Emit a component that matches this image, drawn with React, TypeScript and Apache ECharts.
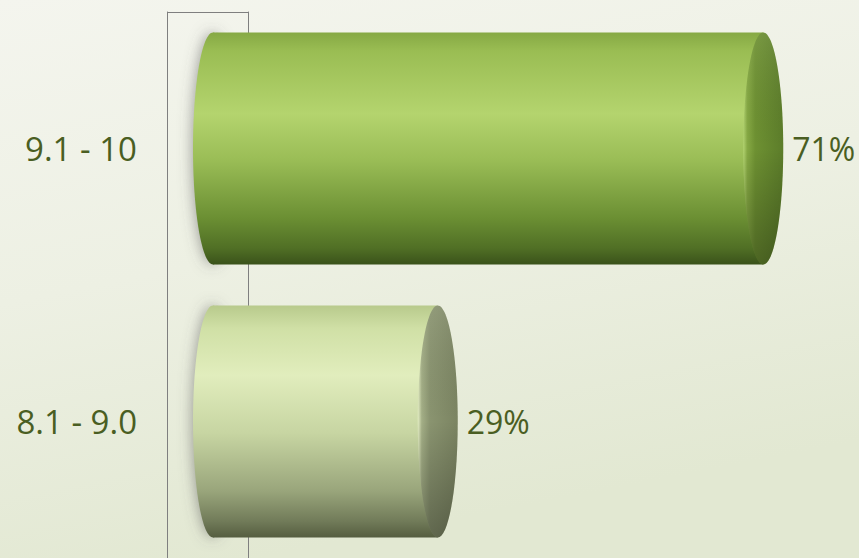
import React, { useEffect, useRef } from "react";
import * as echarts from "echarts";

const categories = ["9.1 - 10", "8.1 - 9.0"];
const values = [71, 29];

const bodyStops = [
  [
    [0, "#86a944"], [0.08, "#9abd53"], [0.35, "#b4d46e"], [0.55, "#9abd56"],
    [0.8, "#6b8f33"], [0.93, "#506f25"], [1, "#3a521a"],
  ],
  [
    [0, "#b8ca8c"], [0.1, "#d0e0a6"], [0.3, "#e1edbd"], [0.55, "#c7d5a2"],
    [0.8, "#99a57b"], [0.93, "#717b59"], [1, "#555d40"],
  ],
];
const capStops = [
  [[0, "#b2d370"], [0.1, "#86a944"], [0.3, "#6e9132"], [1, "#5c7d2a"]],
  [[0, "#e4eec4"], [0.1, "#a3ae86"], [0.3, "#8a9470"], [1, "#7b8462"]],
];

const FONT = "'Open Sans', sans-serif";

export default function App() {
  const ref = useRef<HTMLDivElement>(null);
  useEffect(() => {
    document.body.style.margin = "0";
    const chart = echarts.init(ref.current!, null, { renderer: "svg" });
    const grad = (dir: number[], stops: any[]) =>
      new echarts.graphic.LinearGradient(dir[0], dir[1], dir[2], dir[3],
        stops.map((s) => ({ offset: s[0], color: s[1] })));
    chart.setOption({
      animation: false,
      backgroundColor: new echarts.graphic.LinearGradient(0, 0, 0.3, 1, [
        { offset: 0, color: "#f4f5ee" },
        { offset: 0.5, color: "#edf0e3" },
        { offset: 1, color: "#e2e8d2" },
      ]),
      grid: { left: 213, right: 26, top: 12, bottom: -5 },
      xAxis: { type: "value", min: 0, max: 80, show: false },
      yAxis: [
        {
          type: "category",
          data: categories,
          inverse: true,
          position: "left",
          offset: 46,
          axisLine: { show: true, onZero: false, lineStyle: { color: "#7f7f7f", width: 1 } },
          axisTick: { show: false },
          axisLabel: {
            margin: 30,
            fontSize: 33,
            color: "#4a5e22",
            fontFamily: FONT,
          },
        },
        {
          type: "category",
          data: categories,
          inverse: true,
          position: "left",
          offset: -35,
          axisLine: { show: true, onZero: false, lineStyle: { color: "#7f7f7f", width: 1 } },
          axisTick: { show: false },
          axisLabel: { show: false },
        },
      ],
      graphic: [
        {
          type: "line",
          z: -1,
          shape: { x1: 167, y1: 12.5, x2: 248, y2: 12.5 },
          style: { stroke: "#7f7f7f", lineWidth: 1 },
        },
      ],
      series: [
        {
          type: "custom",
          z: 5,
          data: values.map((v, i) => [v, i]),
          encode: { x: 0, y: 1 },
          renderItem: (params: any, api: any) => {
            const v = api.value(0);
            const i = api.value(1);
            const end = api.coord([v, i]);
            const start = api.coord([0, i]);
            const band = api.size([0, 1])[1];
            const h = band * 0.85;
            const cy = end[1];
            const top = cy - h / 2;
            const rx = 20;
            const idx = params.dataIndex;
            return {
              type: "group",
              children: [
                {
                  type: "ellipse",
                  shape: { cx: start[0] + 4, cy: cy, rx: rx, ry: h / 2 },
                  style: {
                    fill: "#c4c7b8",
                    shadowBlur: 14,
                    shadowColor: "rgba(90,90,90,0.55)",
                    shadowOffsetX: -5,
                  },
                },
                {
                  type: "ellipse",
                  shape: { cx: start[0], cy: cy, rx: rx, ry: h / 2 },
                  style: { fill: grad([0, 0, 0, 1], bodyStops[idx]) },
                },
                {
                  type: "rect",
                  shape: { x: start[0], y: top, width: end[0] - start[0], height: h },
                  style: { fill: grad([0, 0, 0, 1], bodyStops[idx]) },
                },
                {
                  type: "ellipse",
                  shape: { cx: end[0], cy: cy, rx: rx, ry: h / 2 },
                  style: { fill: grad([0, 0, 1, 0], capStops[idx]) },
                },
                {
                  type: "ellipse",
                  shape: { cx: end[0], cy: cy, rx: rx, ry: h / 2 },
                  style: {
                    fill: grad([0, 0, 0, 1], [
                      [0, "rgba(255,255,255,0.08)"],
                      [0.5, "rgba(0,0,0,0)"],
                      [1, "rgba(0,0,0,0.3)"],
                    ]),
                  },
                },
                {
                  type: "text",
                  x: end[0] + rx + 9,
                  y: cy,
                  style: {
                    text: v + "%",
                    fontSize: 32,
                    fontFamily: FONT,
                    fill: "#4a5e22",
                    verticalAlign: "middle",
                    align: "left",
                  },
                },
              ],
            };
          },
        },
      ],
    });
    return () => chart.dispose();
  }, []);
  return <div ref={ref} style={{ width: 859, height: 558 }} />;
}
